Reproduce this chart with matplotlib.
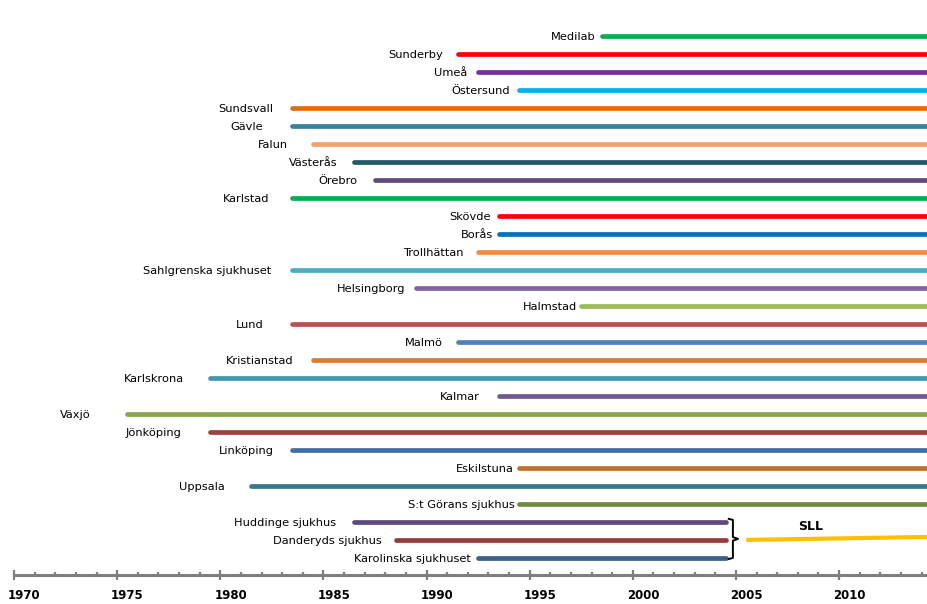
import matplotlib
matplotlib.use("Agg")
import matplotlib.pyplot as plt

# laboratorier, uppifrån och ned
namn = ["Medilab", "Sunderby", "Umeå", "Östersund", "Sundsvall", "Gävle", "Falun",
        "Västerås", "Örebro", "Karlstad", "Skövde", "Borås", "Trollhättan",
        "Sahlgrenska sjukhuset", "Helsingborg", "Halmstad", "Lund", "Malmö",
        "Kristianstad", "Karlskrona", "Kalmar", "Växjö", "Jönköping", "Linköping",
        "Eskilstuna", "Uppsala", "S:t Görans sjukhus", "Huddinge sjukhus",
        "Danderyds sjukhus", "Karolinska sjukhuset"]
start_ar = [1998, 1991, 1992, 1994, 1983, 1983, 1984, 1986, 1987, 1983, 1993, 1993,
            1992, 1983, 1989, 1997, 1983, 1991, 1984, 1979, 1993, 1975, 1979, 1983,
            1994, 1981, 1994, 1986, 1988, 1992]
slut_ar = [2014] * 27 + [2004, 2004, 2004]
farger = ["#00B050", "#FF0000", "#7030A0", "#00B0F0", "#E36C09", "#31859C", "#F5A26A",
          "#215968", "#604A7B", "#00B050", "#FF0000", "#0070C0", "#F08C40", "#4BACC6",
          "#8064A2", "#9BBB59", "#C0504D", "#4F81BD", "#D97B30", "#4197AE", "#71588F",
          "#8AA64A", "#A0403E", "#416EA6", "#C27028", "#357B8C", "#6F8A3E", "#5E4A7D",
          "#943C39", "#3A5F8B"]

# SLL (sammanslagning av de tre Stockholmssjukhusen)
sll_start = 2005
sll_slut = 2014
sll_farg = "#FFC000"

# högerkant för varje etikett (årsskala), läst ur bilden
etikett_x = [1998.21, 1990.8, 1991.96, 1994.04, 1982.55, 1982.07, 1983.28, 1985.66,
             1986.63, 1982.36, 1993.12, 1993.22, 1991.81, 1982.46, 1988.95, 1997.29,
             1982.12, 1990.8, 1983.57, 1978.24, 1992.59, 1973.73, 1978.14, 1982.6,
             1994.24, 1980.23, 1994.28, 1985.61, 1987.84, 1992.15]

ar_etiketter = list(range(1970, 2011, 5))

fig = plt.figure(figsize=(9.27, 6.04), dpi=100)
ax = fig.add_axes([0, 0, 1, 1])

# kategoriaxel som i Excel: varje år ritas mitt mellan två streck
for i in range(len(namn)):
    ax.plot([start_ar[i] + 0.5, slut_ar[i] + 0.5], [i, i], color=farger[i],
            lw=3.4, solid_capstyle="round")
    ax.text(etikett_x[i], i + 0.04, namn[i], ha="right", va="center",
            fontsize=8.2, color="black")

# klammer + SLL-linje
grupp = [27, 28, 29]
bx = slut_ar[-1] + 0.85
topp = grupp[0] - 0.17
botten = grupp[-1] + 0.06
mitt = grupp[1] - 0.06
ax.plot([bx - 0.2, bx, bx, bx + 0.25, bx, bx, bx - 0.2],
        [topp, topp + 0.06, mitt - 0.1, mitt, mitt + 0.1, botten - 0.06, botten],
        color="black", lw=1.4, solid_joinstyle="round")
ax.plot([sll_start + 0.5, sll_slut + 0.5], [grupp[1], grupp[1] - 0.17],
        color=sll_farg, lw=3.0, solid_capstyle="butt")
ax.text(2008.6, grupp[0] + 0.28, "SLL", ha="center", va="center",
        fontsize=9, fontweight="bold")

# tidsaxeln
for s in ["top", "left", "right"]:
    ax.spines[s].set_visible(False)
ax.spines["bottom"].set_position(("data", 29.94))
ax.spines["bottom"].set_bounds(1970, 2015)
ax.spines["bottom"].set_color("#7F7F7F")
ax.spines["bottom"].set_linewidth(2.2)
ax.set_yticks([])
ax.set_xticks(range(1970, 2016, 5))
ax.set_xticks(range(1970, 2016), minor=True)
ax.tick_params(axis="x", which="major", direction="inout", length=7, width=1.6,
               color="#7F7F7F", labelbottom=False)
ax.tick_params(axis="x", which="minor", direction="in", length=2.4, width=1.6,
               color="#7F7F7F")
for ar in ar_etiketter:
    ax.text(ar + 0.5, 31.06, str(ar), ha="center", va="center",
            fontsize=8.5, fontweight="bold")

# gränserna sist, annars vidgar set_xticks dem
ax.set_xlim(1969.32, 2014.26)
ax.set_ylim(31.56, -2)

fig.savefig("out.png", dpi=100)
